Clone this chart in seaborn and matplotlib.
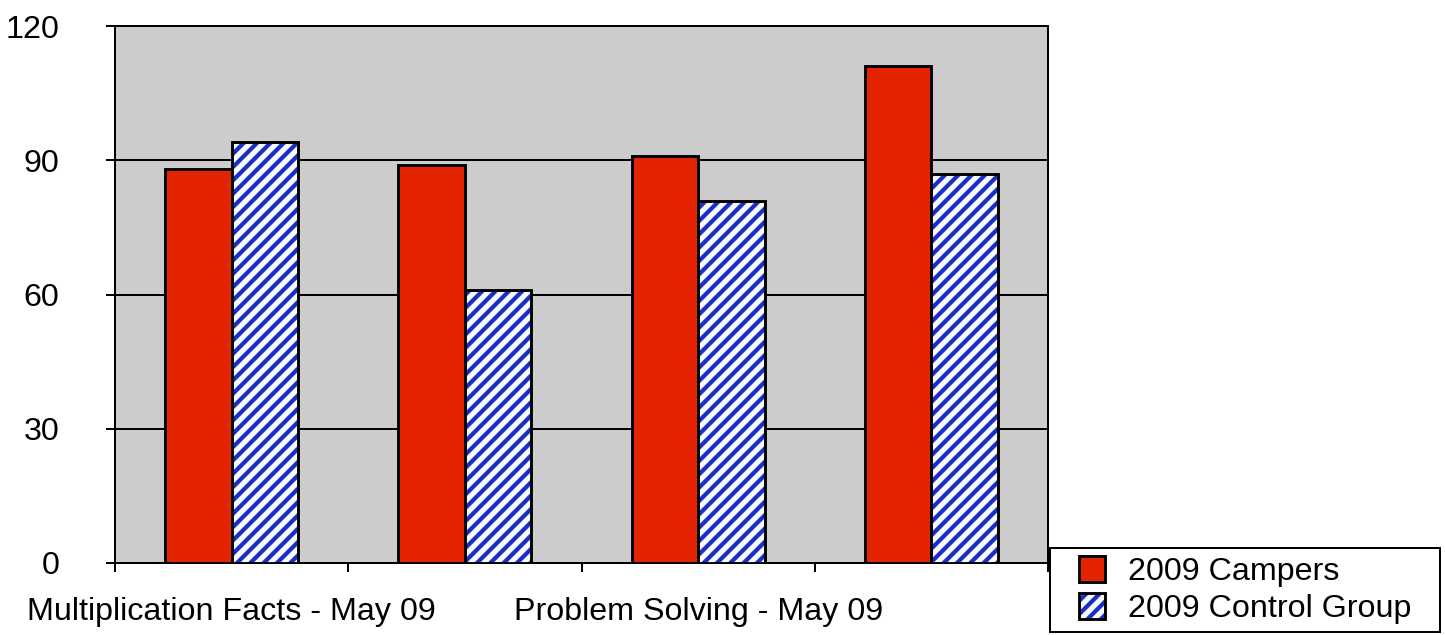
import matplotlib
matplotlib.use("Agg")
import matplotlib.pyplot as plt
from matplotlib.patches import Rectangle
from matplotlib.legend_handler import HandlerBase
import seaborn as sns
import pandas as pd

# ---- data ----
categories = ["Multiplication Facts - May 09", "Multiplication Facts (2)",
              "Problem Solving - May 09", "Problem Solving (2)"]
tick_labels = ["Multiplication Facts - May 09", "", "Problem Solving - May 09", ""]
series_names = ["2009 Campers", "2009 Control Group"]
campers = [88, 89, 91, 111]
control = [94, 61, 81, 87]
y_ticks = [0, 30, 60, 90, 120]

RED = "#E42300"
BLUE = "#1A30C4"
BG = "#CCCCCC"
FS = 29

sns.set_theme(style="white")
plt.rcParams["font.family"] = ["Liberation Sans", "DejaVu Sans"]
plt.rcParams["hatch.linewidth"] = 3.8

df = pd.DataFrame({
    "category": categories * 2,
    "score": campers + control,
    "group": [series_names[0]] * 4 + [series_names[1]] * 4,
})

DPI = 80
fig = plt.figure(figsize=(1445 / DPI, 635 / DPI), dpi=DPI)
fig.patch.set_facecolor("white")
ax = fig.add_axes([115 / 1445, 1 - 563 / 635, (1048 - 115) / 1445, (563 - 26) / 635])
ax.set_facecolor(BG)

sns.barplot(data=df, x="category", y="score", hue="group", order=categories,
            hue_order=series_names, palette={series_names[0]: RED, series_names[1]: "white"},
            width=0.57, saturation=1, edgecolor="black", linewidth=2.6,
            legend=False, ax=ax, zorder=3)

# style the control bars: blue hatch on white, black outline overlay
for p in ax.containers[1]:
    p.set_facecolor("#FAFAFF")
    p.set_edgecolor(BLUE)
    p.set_linewidth(0)
    p.set_hatch("//")
    x, y = p.get_xy()
    ax.add_patch(Rectangle((x, y), p.get_width(), p.get_height(), fill=False,
                           edgecolor="black", linewidth=2.6, zorder=4))

ax.set_ylim(0, 120)
ax.set_xlim(-0.5, 3.5)
ax.set_yticks(y_ticks)
ax.set_yticklabels([str(v) for v in y_ticks])
ax.yaxis.grid(True, color="black", linewidth=1.8)
ax.xaxis.grid(False)
ax.set_axisbelow(True)

ax.set_xticks([-0.5, 0.5, 1.5, 2.5, 3.5])
ax.set_xticklabels([""] * 5)
ax.set_xticks([0, 1, 2, 3], minor=True)
ax.set_xticklabels(tick_labels, minor=True)
ax.tick_params(axis="x", which="major", direction="out", length=8, width=1.8,
               color="black", bottom=True)
ax.tick_params(axis="x", which="minor", length=0, pad=31, labelsize=FS, labelcolor="black")
ax.tick_params(axis="y", direction="out", length=8, width=1.8, color="black",
               left=True, pad=42, labelsize=FS, labelcolor="black")
for lab in ax.get_yticklabels():
    lab.set_horizontalalignment("right")
ax.set_xlabel("")
ax.set_ylabel("")
for s in ax.spines.values():
    s.set_visible(True)
    s.set_color("black")
    s.set_linewidth(1.8)


# ---- legend ----
class SquareHandler(HandlerBase):
    def __init__(self, kind):
        super().__init__()
        self.kind = kind

    def create_artists(self, legend, orig_handle, xdescent, ydescent, width, height,
                       fontsize, trans):
        side = height
        x0 = -xdescent + width - side
        y0 = -ydescent
        arts = []
        if self.kind == "red":
            r = Rectangle((x0, y0), side, side, facecolor=RED, edgecolor="black",
                          linewidth=2.6, transform=trans)
            arts.append(r)
        else:
            h = Rectangle((x0, y0), side, side, facecolor="#FAFAFF", edgecolor=BLUE,
                          linewidth=0, hatch="//", transform=trans)
            o = Rectangle((x0, y0), side, side, fill=False, edgecolor="black",
                          linewidth=2.6, transform=trans)
            arts.extend([h, o])
        return arts


h1 = Rectangle((0, 0), 1, 1)
h2 = Rectangle((0, 0), 1, 1)
leg = fig.legend([h1, h2], series_names, loc="lower left", mode="expand",
                 bbox_to_anchor=(1050 / 1445, 3 / 635, 390 / 1445, 84 / 635),
                 bbox_transform=fig.transFigure,
                 handler_map={h1: SquareHandler("red"), h2: SquareHandler("hatch")},
                 fontsize=FS, frameon=True, fancybox=False, edgecolor="black",
                 facecolor="white", framealpha=1, borderpad=0.25, labelspacing=0.18,
                 handlelength=1.45, handleheight=0.85, handletextpad=0.72,
                 borderaxespad=0)
leg.get_frame().set_linewidth(1.8)
for t in leg.get_texts():
    t.set_color("black")

fig.savefig("out.png", dpi=DPI, facecolor="white")
